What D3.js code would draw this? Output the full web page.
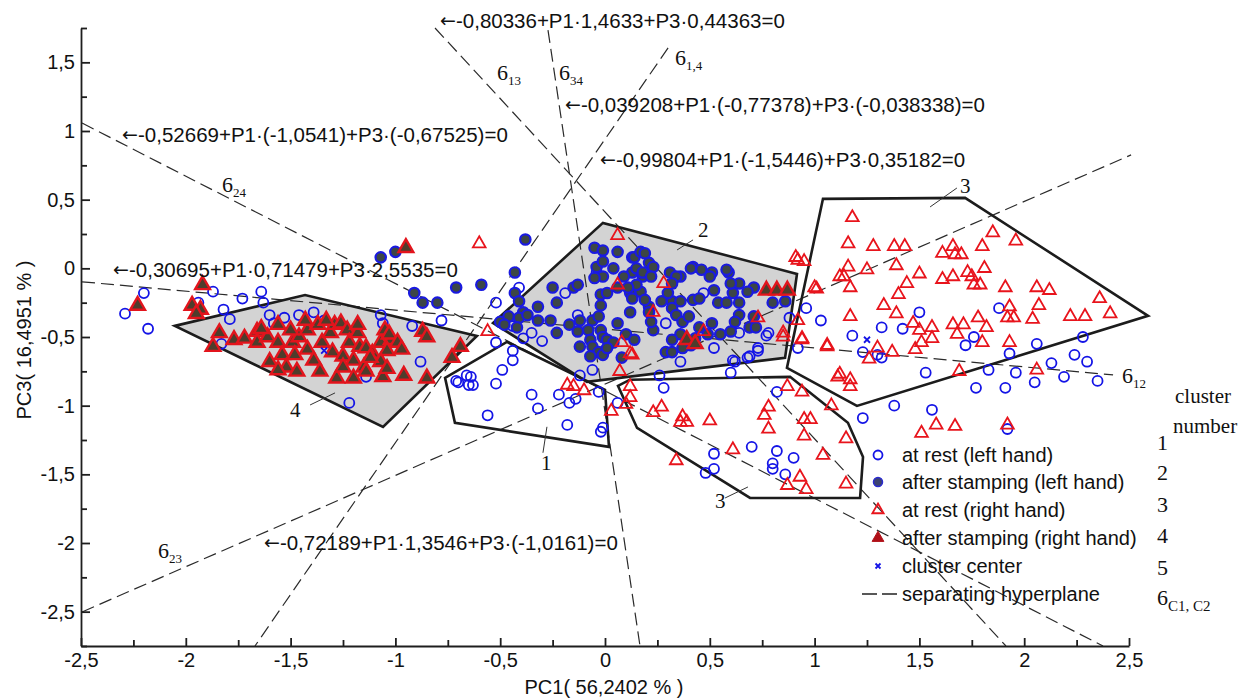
<!DOCTYPE html>
<html><head><meta charset="utf-8">
<script src="https://cdn.jsdelivr.net/npm/d3@7"></script>
<style>body{margin:0;background:#fff}</style></head>
<body><svg id="c" width="1249" height="699"></svg>
<script>
// ---------------- DATA ----------------
const xTicks=[-2.5,-2,-1.5,-1,-0.5,0,0.5,1,1.5,2,2.5];
const xMinor=[-2.25,-1.75,-1.25,-0.75,-0.25,0.25,0.75,1.25,1.75,2.25];
const yTicks=[-2.5,-2,-1.5,-1,-0.5,0,0.5,1,1.5];
const yMinor=[-2.75,-2.25,-1.75,-1.25,-0.75,-0.25,0.25,0.75,1.25,1.75];
const xTitle="PC1( 56,2402 % )";
const yTitle="PC3( 16,4951 % )";

// at rest (left hand) - open blue circles
const atRestLeft=[[-2.29,-0.33],[-2.18,-0.44],[-2.20,-0.18],[-1.94,-0.25],[-1.87,-0.17],[-1.82,-0.30],[-1.79,-0.37],[-1.73,-0.22],[-1.64,-0.17],[-1.63,-0.25],[-1.60,-0.34],[-1.58,-0.40],[-1.53,-0.36],[-1.46,-0.34],[-1.39,-0.32],[-1.34,-0.38],[-1.83,-0.55],[-1.22,-0.98],[-1.14,-0.79],[-1.07,-0.34],[-1.06,-0.40],[-0.92,-0.42],[-0.78,-0.38],[-0.88,-0.68],[-0.52,-0.25],[-0.52,-0.54],[-0.71,-0.82],[-0.64,-0.79],[-0.65,-0.85],[-0.56,-1.07],[-0.41,-0.14],[-0.19,-0.18],[-0.13,-0.34],[-0.35,-0.47],[-0.30,-0.53],[-0.39,-0.51],[-0.44,-0.60],[-0.44,-0.67],[-0.49,-0.74],[-0.04,-0.03],[-0.06,-0.74],[-0.12,-0.78],[-0.70,-0.83],[-0.66,-0.78],[-0.63,-0.85],[-0.52,-0.84],[-0.35,-0.92],[-0.32,-1.02],[-0.22,-0.92],[-0.17,-0.98],[-0.14,-0.95],[-0.18,-1.14],[-0.02,-1.19],[-0.01,-1.16],[-0.03,-0.90],[0.06,-0.98],[0.26,-0.78],[0.28,-0.87],[0.36,-0.68],[0.60,-0.76],[0.62,-0.68],[0.69,-0.64],[0.73,-0.60],[0.77,-0.49],[0.82,-0.90],[1.23,-1.09],[1.18,-0.49],[0.92,-0.58],[0.52,-1.35],[0.70,-1.30],[0.82,-1.33],[0.90,-1.38],[0.80,-1.42],[0.80,-1.46],[0.86,-1.50],[0.52,-1.46],[0.48,-1.49],[0.96,-0.29],[0.88,-0.36],[1.03,-0.38],[1.23,-0.61],[1.32,-0.43],[1.30,-0.63],[1.32,-0.65],[1.42,-0.44],[1.50,-0.32],[1.53,-0.76],[1.72,-0.56],[1.76,-0.50],[1.77,-0.87],[1.83,-0.74],[1.88,-0.29],[1.93,-0.62],[1.96,-0.76],[1.91,-0.87],[2.06,-0.55],[2.05,-0.83],[2.13,-0.69],[2.19,-0.79],[2.24,-0.63],[2.28,-0.50],[2.30,-0.68],[2.35,-0.82],[1.38,-1.00],[1.56,-1.03],[1.92,-1.17],[0.47,-0.18],[0.29,-0.40],[0.64,-0.47],[0.78,-0.47],[0.73,-0.58],[0.68,-0.65],[0.61,-0.67],[0.52,-0.58],[0.37,-0.58],[-0.44,-0.42]];

// after stamping (left hand) - filled blue circles
const afterStampLeft=[[-1.07,0.08],[-1.00,0.12],[-0.91,-0.18],[-0.87,-0.25],[-0.80,-0.25],[-0.71,-0.14],[-0.59,-0.12],[-0.38,0.21],[-0.43,-0.03],[-0.43,-0.18],[-0.41,-0.24],[-0.23,-0.25],[-0.15,-0.14],[-0.05,0.15],[-0.01,0.13],[0.06,0.12],[0.13,0.08],[0.21,0.04],[0.23,0.01],[-0.04,0.01],[-0.01,-0.06],[0.13,-0.03],[0.18,-0.06],[0.06,-0.14],[0.12,-0.18],[0.17,-0.17],[0.21,-0.28],[0.27,-0.24],[0.32,-0.24],[0.12,-0.32],[-0.02,-0.27],[-0.06,-0.38],[-0.12,-0.38],[-0.26,-0.38],[-0.32,-0.38],[-0.39,-0.32],[0.36,-0.06],[0.42,0.01],[0.46,-0.01],[0.51,-0.03],[0.59,-0.03],[0.64,-0.11],[0.61,-0.18],[0.42,-0.23],[0.54,-0.25],[0.71,-0.14],[-0.32,-0.28],[-0.25,-0.14],[-0.13,-0.12],[-0.01,0.05],[0.04,0.00],[0.09,-0.06],[-0.05,-0.07],[-0.02,-0.19],[0.01,-0.18],[0.14,0.08],[0.17,0.12],[0.15,0.00],[0.15,-0.12],[0.11,-0.14],[0.13,-0.22],[0.19,-0.23],[-0.46,-0.35],[-0.50,-0.39],[-0.41,-0.36],[-0.37,-0.34],[-0.17,-0.41],[-0.23,-0.47],[-0.13,-0.46],[-0.12,-0.57],[-0.08,-0.45],[-0.07,-0.52],[-0.03,-0.35],[-0.02,-0.45],[-0.01,-0.50],[0.01,-0.52],[0.04,-0.54],[-0.06,-0.57],[-0.03,-0.61],[-0.07,-0.64],[-0.01,-0.63],[0.01,-0.58],[0.06,-0.40],[0.10,-0.48],[0.14,-0.52],[0.08,-0.65],[-0.42,-0.43],[-0.48,-0.41],[0.19,0.11],[0.18,-0.03],[0.22,-0.06],[0.31,-0.03],[0.34,-0.06],[0.41,0.00],[0.50,-0.06],[0.58,-0.01],[0.60,-0.11],[0.52,-0.16],[0.45,-0.22],[0.32,-0.11],[0.30,-0.18],[0.36,-0.24],[0.32,-0.29],[0.34,-0.34],[0.37,-0.39],[0.40,-0.35],[0.21,-0.32],[0.58,-0.25],[0.64,-0.25],[0.68,-0.17],[0.80,-0.25],[0.64,-0.34],[0.71,-0.35],[0.69,-0.43],[0.62,-0.39],[0.60,-0.46],[0.51,-0.40],[0.55,-0.48],[0.49,-0.48],[0.45,-0.43],[0.43,-0.51],[0.41,-0.56],[0.36,-0.48],[0.32,-0.52],[0.29,-0.61],[0.32,-0.61],[0.37,-0.58],[0.72,-0.43],[0.86,-0.24],[0.23,-0.45],[0.22,-0.39]];

// at rest (right hand) - open red triangles
const atRestRight=[[1.18,0.37],[1.16,0.18],[1.28,0.16],[1.38,0.16],[1.43,0.16],[1.16,0.01],[1.25,-0.01],[1.12,-0.06],[1.01,-0.15],[0.92,0.06],[1.17,-0.14],[1.39,0.02],[1.50,-0.04],[1.33,-0.27],[1.40,-0.19],[1.44,-0.11],[1.39,-0.33],[1.17,-0.35],[1.06,-0.56],[0.94,-0.51],[1.30,-0.58],[1.37,-0.61],[1.26,-0.66],[1.12,-0.77],[1.17,-0.81],[1.17,-0.86],[1.48,-0.59],[1.51,-0.54],[1.47,-0.40],[1.50,-0.45],[1.56,-0.51],[1.56,-0.43],[1.61,0.11],[1.66,0.16],[1.70,0.10],[1.67,0.10],[1.80,0.16],[1.85,0.26],[1.96,0.20],[1.61,-0.08],[1.66,-0.06],[1.73,-0.03],[1.75,-0.06],[1.76,-0.12],[1.79,-0.12],[1.81,0.00],[1.66,-0.41],[1.71,-0.41],[1.78,-0.36],[1.82,-0.43],[1.68,-0.48],[1.80,-0.54],[1.69,-0.75],[1.91,-0.14],[1.93,-0.28],[1.92,-0.36],[1.95,-0.36],[2.04,-0.37],[1.93,-0.54],[2.06,-0.14],[2.12,-0.16],[2.07,-0.27],[2.22,-0.35],[2.29,-0.35],[2.36,-0.22],[2.41,-0.33],[2.06,-0.74],[1.08,-1.00],[0.87,-0.86],[0.94,-0.90],[1.51,-1.20],[1.58,-1.14],[1.67,-1.15],[1.92,-1.14],[1.15,-1.24],[1.15,-1.57],[-0.18,-0.85],[-0.15,-0.86],[-0.10,-0.89],[0.03,-1.04],[0.12,-0.86],[0.12,-0.94],[0.10,-0.99],[0.08,-0.54],[0.12,-0.62],[0.07,-0.75],[0.27,-1.01],[0.23,-1.05],[0.37,-1.08],[0.39,-1.12],[0.36,-1.12],[0.50,-1.11],[0.78,-1.01],[0.76,-1.07],[0.78,-1.17],[0.95,-1.10],[0.98,-1.10],[0.95,-1.22],[1.04,-1.36],[0.93,-1.52],[0.87,-1.58],[0.96,-1.61],[0.61,-1.32],[0.34,-1.40],[1.11,-0.79],[1.06,-0.57],[0.94,-0.52],[0.85,-0.50],[0.06,0.24],[-0.60,0.18],[0.06,-0.12],[0.28,-0.11],[0.23,-0.32],[0.91,0.08],[1.00,-0.14],[1.14,-0.06],[0.13,-0.63],[-0.56,-0.46],[0.47,-0.46],[0.73,-0.36],[0.85,-0.47],[0.92,-0.38],[0.95,0.05]];

// after stamping (right hand) - filled red triangles
const afterStampRight=[[-2.23,-0.27],[-1.92,-0.12],[-1.97,-0.27],[-1.93,-0.30],[-1.84,-0.47],[-1.87,-0.57],[-1.77,-0.52],[-1.72,-0.51],[-1.66,-0.46],[-1.66,-0.54],[-1.61,-0.50],[-1.56,-0.54],[-1.60,-0.68],[-1.54,-0.63],[-1.49,-0.54],[-1.46,-0.50],[-1.42,-0.45],[-1.42,-0.59],[-1.39,-0.67],[-1.35,-0.54],[-1.31,-0.47],[-1.29,-0.41],[-1.26,-0.40],[-1.23,-0.45],[-1.22,-0.54],[-1.18,-0.47],[-1.17,-0.57],[-1.30,-0.61],[-1.25,-0.64],[-1.20,-0.67],[-1.15,-0.72],[-1.11,-0.62],[-1.07,-0.54],[-1.05,-0.45],[-1.02,-0.52],[-0.96,-0.78],[-1.06,-0.79],[-1.52,-0.72],[-1.47,-0.75],[-1.56,-0.74],[-1.36,-0.75],[-1.28,-0.80],[-1.20,-0.80],[-1.14,-0.75],[-1.37,-0.41],[-1.33,-0.38],[-1.50,-0.45],[-1.56,-0.41],[-1.43,-0.38],[-1.18,-0.41],[-1.14,-0.58],[-1.03,-0.48],[-0.99,-0.54],[-0.97,-0.59],[-1.04,-0.60],[-1.07,-0.68],[-1.04,-0.73],[-0.85,-0.80],[-0.87,-0.46],[-0.85,-0.50],[-0.69,-0.57],[-0.73,-0.65],[-0.95,0.15],[-1.12,-0.65],[-1.25,-0.72],[-1.48,-0.63],[-1.95,-0.33],[-1.64,-0.44],[0.39,-0.52],[0.43,-0.55],[0.77,-0.16],[0.82,-0.16],[0.87,-0.16]];

const clusterCenters=[[1.25,-0.52],[-1.34,-0.60]];

// cluster boundaries
const clusterNames=["1","2","3","3","4"];
const cluster1=[[-0.763,-0.797],[-0.468,-0.536],[0.000,-0.885],[0.019,-1.300],[-0.716,-1.125]];
const cluster2=[[-0.534,-0.398],[-0.010,0.331],[0.916,-0.041],[0.859,-0.652],[-0.086,-0.827]];
const cluster3a=[[1.040,0.506],[1.718,0.513],[2.591,-0.346],[1.202,-1.002],[0.868,-0.725]];
const cluster3b=[[0.062,-0.856],[0.119,-0.811],[0.883,-0.790],[1.159,-1.125],[1.231,-1.373],[1.217,-1.672],[0.692,-1.672],[0.153,-1.162]];
const cluster4=[[-2.052,-0.419],[-1.431,-0.194],[-0.611,-0.492],[-1.059,-1.155]];

// separating hyperplanes (end points)
const planeNames=["24","13","34","1,4","23","12"];
const planeEnds=[
 [[-2.495,1.058],[2.376,-2.75]],
 [[-0.811,1.75],[1.913,-2.75]],
 [[-0.272,1.735],[0.167,-2.75]],
 [[0.301,1.605],[-1.670,-2.75]],
 [[-2.495,-2.502],[2.510,0.826]],
 [[-2.495,-0.098],[2.424,-0.776]]
];
const equations=[
 "-0,80336+P1\u00b71,4633+P3\u00b70,44363=0",
 "-0,039208+P1\u00b7(-0,77378)+P3\u00b7(-0,038338)=0",
 "-0,52669+P1\u00b7(-1,0541)+P3\u00b7(-0,67525)=0",
 "-0,99804+P1\u00b7(-1,5446)+P3\u00b70,35182=0",
 "-0,30695+P1\u00b70,71479+P3\u00b72,5535=0",
 "-0,72189+P1\u00b71,3546+P3\u00b7(-1,0161)=0"
];
const legendLabels=["at rest (left hand)","after stamping (left hand)","at rest (right hand)","after stamping (right hand)","cluster center","separating hyperplane"];
const numberColumn=["1","2","3","4","5","6"];

// ---------------- LAYOUT (annotation anchors, in data units) ----------------
const eqPos=[[-0.787,1.75],[-0.191,1.139],[-2.304,0.920],[-0.024,0.738],[-2.347,-0.062],[-1.627,-2.052]];
const planeLabelPos=[[-1.827,0.556],[-0.515,1.372],[-0.219,1.372],[0.334,1.481],[-2.133,-2.109],[2.467,-0.834]];
const clusterLabelPos=[[-0.305,-1.468],[0.444,0.229],[1.694,0.549],[0.525,-1.745],[-1.503,-1.082]];
const leaders=[[[-0.296,-1.343],[-0.277,-1.154]],[[0.344,0.134],[0.420,0.207]],[[1.551,0.447],[1.679,0.585]],[[0.573,-1.672],[0.682,-1.592]],[[-1.407,-0.995],[-1.288,-0.907]]];

// ---------------- DRAW ----------------
const SANS='"Liberation Sans", Arial, Helvetica, sans-serif';
const SERIF='"Liberation Serif","Times New Roman",Times,serif';
const svg=d3.select('#c');
const x=d3.scaleLinear().domain([-2.5,2.5]).range([81,1129]);
const y=d3.scaleLinear().domain([-2.75,1.75]).range([646,28]);
const fmt=d=>String(d).replace('.',',');

const polys=[{p:cluster1,g:false},{p:cluster2,g:true},{p:cluster3a,g:false},{p:cluster3b,g:false},{p:cluster4,g:true}];
const pl=d3.line().x(d=>x(d[0])).y(d=>y(d[1])).curve(d3.curveLinearClosed);
svg.append('g').selectAll('path').data(polys.filter(d=>d.g)).join('path')
  .attr('d',d=>pl(d.p)).attr('fill','#d3d3d3').attr('stroke','none');

svg.append('g').selectAll('line').data(planeEnds).join('line')
  .attr('x1',d=>x(d[0][0])).attr('y1',d=>y(d[0][1])).attr('x2',d=>x(d[1][0])).attr('y2',d=>y(d[1][1]))
  .attr('stroke','#2a2a2a').attr('stroke-width',1.2).attr('stroke-dasharray','13,6');

svg.append('g').selectAll('path').data(polys).join('path')
  .attr('d',d=>pl(d.p)).attr('fill','none').attr('stroke','#1c1c1c').attr('stroke-width',2.6).attr('stroke-linejoin','miter');

// leaders
svg.append('g').selectAll('line').data(leaders).join('line')
  .attr('x1',d=>x(d[0][0])).attr('y1',d=>y(d[0][1])).attr('x2',d=>x(d[1][0])).attr('y2',d=>y(d[1][1]))
  .attr('stroke','#333').attr('stroke-width',1);

// markers
const tri=d3.symbol().type(d3.symbolTriangle);
svg.append('g').selectAll('circle').data(atRestLeft).join('circle')
  .attr('cx',d=>x(d[0])).attr('cy',d=>y(d[1])).attr('r',5).attr('fill','none').attr('stroke','#1414e6').attr('stroke-width',1.8);
svg.append('g').selectAll('circle').data(afterStampLeft).join('circle')
  .attr('cx',d=>x(d[0])).attr('cy',d=>y(d[1])).attr('r',5.2).attr('fill','#3c4646').attr('stroke','#1a1ae0').attr('stroke-width',2.2);
svg.append('g').selectAll('path').data(atRestRight).join('path')
  .attr('transform',d=>`translate(${x(d[0])},${y(d[1])})`).attr('d',tri.size(70)()).attr('fill','none').attr('stroke','#e8141c').attr('stroke-width',1.8);
svg.append('g').selectAll('path').data(afterStampRight).join('path')
  .attr('transform',d=>`translate(${x(d[0])},${y(d[1])})`).attr('d',tri.size(95)()).attr('fill','#4e3d2c').attr('stroke','#e3141c').attr('stroke-width',2.4);
svg.append('g').selectAll('path').data(clusterCenters).join('path')
  .attr('transform',d=>`translate(${x(d[0])},${y(d[1])})`).attr('d','M-3,-3L3,3M-3,3L3,-3').attr('stroke','#1414e6').attr('stroke-width',1.8);

// axes
function styleAxis(g){g.selectAll('path,line').attr('stroke','#1e1e1e').attr('stroke-width',1.8);
  g.selectAll('text').attr('font-family',SANS).attr('font-size',20).attr('fill','#111');}
const gx=svg.append('g').attr('transform','translate(0,646)');
gx.call(d3.axisBottom(x).tickValues(xTicks).tickFormat(fmt).tickSize(-8).tickSizeOuter(0).tickPadding(7));
gx.append('g').call(d3.axisBottom(x).tickValues(xMinor).tickFormat('').tickSize(-6).tickSizeOuter(0)).select('.domain').remove();
styleAxis(gx);
const gy=svg.append('g').attr('transform','translate(81,0)');
gy.call(d3.axisLeft(y).tickValues(yTicks).tickFormat(fmt).tickSize(-9).tickSizeOuter(0).tickPadding(6));
gy.append('g').call(d3.axisLeft(y).tickValues(yMinor).tickFormat('').tickSize(-6).tickSizeOuter(0)).select('.domain').remove();
styleAxis(gy);

svg.append('text').attr('x',604).attr('y',694).attr('text-anchor','middle').attr('font-family',SANS).attr('font-size',20).attr('fill','#111').text(xTitle);
svg.append('text').attr('transform','translate(31,340) rotate(-90)').attr('text-anchor','middle').attr('font-family',SANS).attr('font-size',20).attr('fill','#111').text(yTitle);

// equations (arrow + text)
const eq=svg.append('g').selectAll('text').data(equations).join('text')
  .attr('x',(d,i)=>x(eqPos[i][0])).attr('y',(d,i)=>y(eqPos[i][1]))
  .attr('font-family',SANS).attr('font-size',20.5).attr('fill','#111');
eq.append('tspan').attr('font-family','"DejaVu Sans", sans-serif').attr('font-size',19).attr('dy',-1).text('\u2190');
eq.append('tspan').attr('dy',1).text(d=>d);

// hyperplane labels
const pls=svg.append('g').selectAll('text').data(planeNames).join('text')
  .attr('x',(d,i)=>x(planeLabelPos[i][0])).attr('y',(d,i)=>y(planeLabelPos[i][1]))
  .attr('font-family',SERIF).attr('font-size',22).attr('fill','#111');
pls.append('tspan').text('6');
pls.append('tspan').attr('font-size',13).attr('dy',5).text(d=>d);

// cluster labels
svg.append('g').selectAll('text').data(clusterNames).join('text')
  .attr('x',(d,i)=>x(clusterLabelPos[i][0])).attr('y',(d,i)=>y(clusterLabelPos[i][1]))
  .attr('font-family',SERIF).attr('font-size',21).attr('fill','#111').text(d=>d);

// legend
const lg=svg.append('g');
const rowsY=[455,482,510,538,566,594];
legendLabels.forEach((t,i)=>{
  const cy=rowsY[i], cx=878;
  if(i===0) lg.append('circle').attr('cx',cx).attr('cy',cy).attr('r',4.5).attr('fill','none').attr('stroke','#1414e6').attr('stroke-width',1.8);
  if(i===1) lg.append('circle').attr('cx',cx).attr('cy',cy).attr('r',4.5).attr('fill','#3c4270').attr('stroke','#2a2ad0').attr('stroke-width',1.5);
  if(i===2) lg.append('path').attr('transform',`translate(${cx},${cy})`).attr('d',tri.size(55)()).attr('fill','none').attr('stroke','#e8141c').attr('stroke-width',1.8);
  if(i===3) lg.append('path').attr('transform',`translate(${cx},${cy})`).attr('d',tri.size(60)()).attr('fill','#b01018').attr('stroke','#b01018').attr('stroke-width',1);
  if(i===4) lg.append('path').attr('transform',`translate(${cx},${cy})`).attr('d','M-2.5,-2.5L2.5,2.5M-2.5,2.5L2.5,-2.5').attr('stroke','#1414e6').attr('stroke-width',1.8);
  if(i===5) lg.append('line').attr('x1',862).attr('x2',898).attr('y1',cy).attr('y2',cy).attr('stroke','#222').attr('stroke-width',1.3).attr('stroke-dasharray','15,5');
  lg.append('text').attr('x',902).attr('y',cy+7).attr('font-family',SANS).attr('font-size',20).attr('fill','#111').text(t);
});
const numY=[450,480,512,543,575,605];
svg.append('text').attr('x',1175).attr('y',403).attr('font-family',SERIF).attr('font-size',21).attr('fill','#111').text('cluster');
svg.append('text').attr('x',1173).attr('y',433).attr('font-family',SERIF).attr('font-size',21).attr('fill','#111').text('number');
numberColumn.forEach((t,i)=>{
  const tx=svg.append('text').attr('x',1157).attr('y',numY[i]).attr('font-family',SERIF).attr('font-size',22).attr('fill','#111');
  tx.append('tspan').text(t);
  if(i===5) tx.append('tspan').attr('font-size',15).attr('dy',6).text('C1, C2');
});
</script></body></html>
